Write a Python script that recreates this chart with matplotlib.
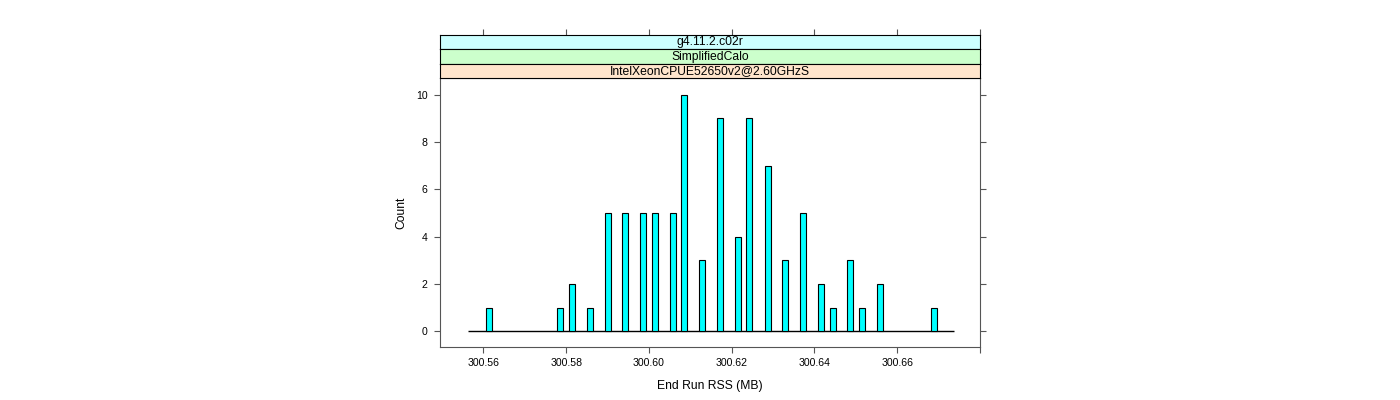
import matplotlib
matplotlib.use('Agg')
import matplotlib.pyplot as plt

plt.rcParams['font.family'] = ['Liberation Sans', 'DejaVu Sans']

# histogram bars (bin centre in MB, count)
bin_centers = [300.5613, 300.5785, 300.5814, 300.5858, 300.5900, 300.5943,
               300.5986, 300.6015, 300.6058, 300.6086, 300.6129, 300.6173,
               300.6215, 300.6243, 300.6287, 300.6330, 300.6373, 300.6416,
               300.6444, 300.6487, 300.6516, 300.6559, 300.6688]
counts = [1, 1, 2, 1, 5, 5, 5, 5, 5, 10, 3, 9, 4, 9, 7, 3, 5, 2, 1, 3, 1, 2, 1]
bin_width = 0.00145
breaks_range = (300.5563, 300.6738)

x_ticks = [300.56, 300.58, 300.60, 300.62, 300.64, 300.66, 300.68]
x_tick_labels = ['300.56', '300.58', '300.60', '300.62', '300.64', '300.66', '']
y_ticks = [0, 2, 4, 6, 8, 10]

strip_labels = ['g4.11.2.c02r', 'SimplifiedCalo', 'IntelXeonCPUE52650v2@2.60GHzS']
strip_colors = ['#ccffff', '#ccffcc', '#ffe5cc']

xlim = (300.5496, 300.68)
ylim = (-0.68, 10.69)


def main():
    fig = plt.figure(figsize=(14, 4), dpi=100)
    W, H = 1400, 400
    left, right, top, bottom = 440.3, 980, 78.3, 347.3
    ax = fig.add_axes([left / W, 1 - bottom / H, (right - left) / W, (bottom - top) / H])

    ax.hlines(0, *breaks_range, color='black', linewidth=1)
    ax.bar(bin_centers, counts, width=bin_width, color='#00ffff',
           edgecolor='black', linewidth=0.8, zorder=3)

    ax.set_xlim(*xlim)
    ax.set_ylim(*ylim)
    ax.set_xticks(x_ticks)
    ax.set_xticklabels(x_tick_labels)
    ax.set_yticks(y_ticks)
    ax.tick_params(axis='both', direction='out', length=4, width=0.8,
                   color='#555555', labelsize=7.6)
    ax.tick_params(axis='y', right=True, labelright=False, pad=5)
    ax.tick_params(axis='x', pad=4)
    for sp in ax.spines.values():
        sp.set_color('#555555')
        sp.set_linewidth(0.8)

    ax.set_xlabel('End Run RSS (MB)', fontsize=8.75, labelpad=8)
    ax.set_ylabel('Count', fontsize=8.75, labelpad=6)

    # strips above the panel, top one carries the top ticks
    strip_h = 14.5
    for i, (label, col) in enumerate(zip(strip_labels, strip_colors)):
        s_top = top - strip_h * (len(strip_labels) - i)
        sax = fig.add_axes([left / W, 1 - (s_top + strip_h) / H,
                            (right - left) / W, strip_h / H])
        sax.set_facecolor(col)
        sax.set_xlim(*xlim)
        sax.set_ylim(0, 1)
        sax.set_yticks([])
        sax.text(0.5, 0.5, label, transform=sax.transAxes, ha='center',
                 va='center', fontsize=8.75)
        for sp in sax.spines.values():
            sp.set_color('black')
            sp.set_linewidth(0.8)
        if i == 0:
            sax.set_xticks(x_ticks)
            sax.tick_params(axis='x', top=True, bottom=False, labelbottom=False,
                            direction='out', length=4, width=0.8, color='#555555')
        else:
            sax.set_xticks([])

    fig.savefig('out.png', dpi=100)


if __name__ == '__main__':
    main()
